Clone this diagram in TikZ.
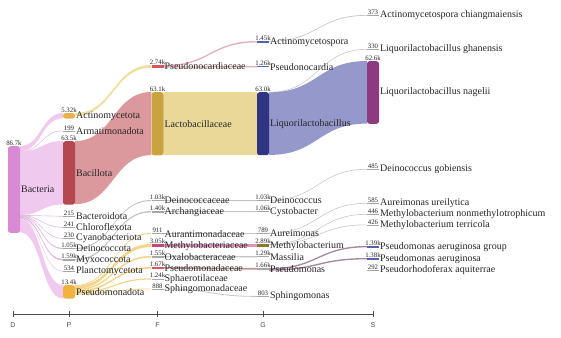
\documentclass[tikz,border=0pt]{standalone}
\usepackage{fontspec}
\setmainfont{Liberation Serif}
\setsansfont{Liberation Sans}
\usetikzlibrary{positioning,calc,backgrounds}

% Colori delle barre
\definecolor{cBact}{HTML}{D98AD5}
\definecolor{cActino}{HTML}{E6B04A}
\definecolor{cBacil}{HTML}{B5474F}
\definecolor{cPseudo}{HTML}{F2B33E}
\definecolor{cLacto}{HTML}{C9A43E}
\definecolor{cNavy}{HTML}{2F3582}
\definecolor{cPurple}{HTML}{8E3A80}
\definecolor{cRosso}{HTML}{D65660}
\definecolor{cMagenta}{HTML}{C8487A}
\definecolor{cOliva}{HTML}{8C7A34}
\definecolor{cBlu}{HTML}{5561AE}
\definecolor{cGrigio}{HTML}{A6A6A6}
% Colori dei flussi
\definecolor{fBact}{HTML}{F0C9EE}
\definecolor{fSottile}{HTML}{E2B8E0}
\definecolor{fBacil}{HTML}{DC999D}
\definecolor{fActino}{HTML}{EEE0A0}
\definecolor{fLacto}{HTML}{E9D897}
\definecolor{fLiquor}{HTML}{9598CB}
\definecolor{fPseudo}{HTML}{F3D488}
\definecolor{fRosa}{HTML}{E6B0B7}
\definecolor{fMagenta}{HTML}{DE94BB}
\definecolor{fBruno}{HTML}{BF9599}
\definecolor{fViola}{HTML}{A58A9E}
\definecolor{fGrigio}{HTML}{C4C4C4}

% Barra con valore sopra ed etichetta a destra
\newcommand{\nodo}[7]{%
  \node[#5, anchor=north, minimum height=#4] (#1) at (#2,#3) {};
  \node[valore, above=0pt of #1] (#1-v) {#6};
  \node[etichetta, right=0.5pt of #1] (#1-t) {#7};}

% Flusso a nastro: stile, punto alto di partenza, punto alto di arrivo, spessore
\newcommand{\flusso}[4]{%
  \fill[#1] let \p1=(#2), \p2=(#3), \n1={0.5*\x1+0.5*\x2} in
    (\p1) .. controls (\n1,\y1) and (\n1,\y2) .. (\p2)
    -- (\x2,\y2-#4pt) .. controls (\n1,\y2-#4pt) and (\n1,\y1-#4pt) .. (\x1,\y1-#4pt) -- cycle;}

\begin{document}
\begin{tikzpicture}[x=1pt, y=-1pt,
    barra/.style={rectangle, inner sep=0pt, minimum width=12pt, rounded corners=2.5pt},
    barretta/.style={rectangle, inner sep=0pt, minimum width=12pt, fill=cGrigio},
    valore/.style={inner sep=0.1pt, font=\fontsize{6.8}{7}\selectfont, text=black!85},
    etichetta/.style={inner sep=0.2pt, font=\fontsize{10}{10}\selectfont, text=black!85},
    asse/.style={draw=black!70, line width=0.9pt},
    lettera/.style={font=\sffamily\fontsize{7}{8}\selectfont, text=black!70}]

    \useasboundingbox (0,0) rectangle (561,337);

    % Livello D
    \nodo{bacteria}{14}{146}{86.7}{barra, fill=cBact}{86.7k}{Bacteria}

    % Livello P
    \nodo{actino}{69}{113}{5.32}{barra, fill=cActino}{5.32k}{Actinomycetota}
    \nodo{armati}{69}{130.5}{0.6}{barretta}{199}{Armatimonadota}
    \nodo{bacillota}{69}{141}{63.5}{barra, fill=cBacil}{63.5k}{Bacillota}
    \nodo{bactero}{69}{216}{0.6}{barretta}{215}{Bacteroidota}
    \nodo{chloro}{69}{227}{0.6}{barretta}{241}{Chloroflexota}
    \nodo{cyano}{69}{238}{0.6}{barretta}{230}{Cyanobacteriota}
    \nodo{deinota}{69}{248}{1.05}{barretta}{1.05k}{Deinococcota}
    \nodo{myxo}{69}{259}{1.59}{barretta}{1.59k}{Myxococcota}
    \nodo{plancto}{69}{271}{0.6}{barretta}{534}{Planctomycetota}
    \nodo{pseudota}{69}{285}{13.4}{barra, fill=cPseudo}{13.4k}{Pseudomonadota}

    % Livello F
    \nodo{pnocardiaceae}{157.5}{65}{2.74}{barretta, fill=cRosso}{2.74k}{Pseudonocardiaceae}
    \nodo{lactobac}{157.5}{92}{63.1}{barra, fill=cLacto}{63.1k}{Lactobacillaceae}
    \nodo{deinaceae}{157.5}{200}{1.03}{barretta}{1.03k}{Deinococcaceae}
    \nodo{archang}{157.5}{211}{1.40}{barretta}{1.40k}{Archangiaceae}
    \nodo{auranti}{157.5}{233}{0.911}{barretta}{911}{Aurantimonadaceae}
    \nodo{methylaceae}{157.5}{244}{3.05}{barretta, fill=cMagenta}{3.05k}{Methylobacteriaceae}
    \nodo{oxalo}{157.5}{256}{1.55}{barretta}{1.55k}{Oxalobacteraceae}
    \nodo{pseudaceae}{157.5}{267}{1.67}{barretta, fill=cRosso}{1.67k}{Pseudomonadaceae}
    \nodo{sphaero}{157.5}{278.3}{1.24}{barretta}{1.24k}{Sphaerotilaceae}
    \nodo{sphingaceae}{157.5}{288.5}{0.888}{barretta}{888}{Sphingomonadaceae}

    % Livello G
    \nodo{actinospora}{263}{41}{1.45}{barretta, fill=cBlu}{1.45k}{Actinomycetospora}
    \nodo{pnocardia}{263}{66}{1.26}{barretta, fill=cBlu}{1.26k}{Pseudonocardia}
    \nodo{liquor}{263}{92}{63.0}{barra, fill=cNavy}{63.0k}{Liquorilactobacillus}
    \nodo{deinococcus}{263}{200}{1.03}{barretta}{1.03k}{Deinococcus}
    \nodo{cysto}{263}{211}{1.06}{barretta}{1.06k}{Cystobacter}
    \nodo{aureimonas}{263}{233}{0.789}{barretta}{789}{Aureimonas}
    \nodo{methylium}{263}{244}{2.89}{barretta, fill=cOliva}{2.89k}{Methylobacterium}
    \nodo{massilia}{263}{256}{1.29}{barretta}{1.29k}{Massilia}
    \nodo{pseudomonas}{263}{268}{1.66}{barretta}{1.66k}{Pseudomonas}
    \nodo{sphingomonas}{263}{296}{0.803}{barretta}{803}{Sphingomonas}

    % Livello S
    \nodo{chiang}{373}{15}{0.6}{barretta}{373}{Actinomycetospora chiangmaiensis}
    \nodo{ghanensis}{373}{49}{0.6}{barretta}{330}{Liquorilactobacillus ghanensis}
    \nodo{nagelii}{373}{61}{62.6}{barra, fill=cPurple}{62.6k}{Liquorilactobacillus nagelii}
    \nodo{gobiensis}{373}{169}{0.6}{barretta}{485}{Deinococcus gobiensis}
    \nodo{ureilytica}{373}{203}{0.6}{barretta}{585}{Aureimonas ureilytica}
    \nodo{nonmethyl}{373}{214}{0.6}{barretta}{446}{Methylobacterium nonmethylotrophicum}
    \nodo{terricola}{373}{224.5}{0.6}{barretta}{426}{Methylobacterium terricola}
    \nodo{paergroup}{373}{246}{1.39}{barretta, fill=cBlu}{1.39k}{Pseudomonas aeruginosa group}
    \nodo{paer}{373}{258}{1.38}{barretta, fill=cBlu}{1.38k}{Pseudomonas aeruginosa}
    \nodo{pseudorhodo}{373}{270}{0.6}{barretta}{292}{Pseudorhodoferax aquiterrae}

    % Flussi (sotto barre e testi)
    \begin{scope}[on background layer]
        % D -> P
        \flusso{fBact}{bacteria.north east}{actino.north west}{5.32}
        \flusso{fSottile}{$(bacteria.north east)+(0,5.32)$}{armati.north west}{0.6}
        \flusso{fBact}{$(bacteria.north east)+(0,5.52)$}{bacillota.north west}{63.5}
        \flusso{fSottile}{$(bacteria.north east)+(0,69.0)$}{bactero.north west}{0.6}
        \flusso{fSottile}{$(bacteria.north east)+(0,69.2)$}{chloro.north west}{0.6}
        \flusso{fSottile}{$(bacteria.north east)+(0,69.45)$}{cyano.north west}{0.6}
        \flusso{fSottile}{$(bacteria.north east)+(0,69.7)$}{deinota.north west}{1.05}
        \flusso{fSottile}{$(bacteria.north east)+(0,70.75)$}{myxo.north west}{1.59}
        \flusso{fSottile}{$(bacteria.north east)+(0,72.3)$}{plancto.north west}{0.6}
        \flusso{fBact}{$(bacteria.north east)+(0,72.9)$}{pseudota.north west}{13.4}

        % P -> F
        \flusso{fActino}{actino.north east}{pnocardiaceae.north west}{2.74}
        \flusso{fBacil}{bacillota.north east}{lactobac.north west}{63.1}
        \flusso{fGrigio}{deinota.north east}{deinaceae.north west}{1.03}
        \flusso{fGrigio}{myxo.north east}{archang.north west}{1.40}
        \flusso{fPseudo}{pseudota.north east}{auranti.north west}{0.911}
        \flusso{fPseudo}{$(pseudota.north east)+(0,0.911)$}{methylaceae.north west}{3.05}
        \flusso{fPseudo}{$(pseudota.north east)+(0,3.96)$}{oxalo.north west}{1.55}
        \flusso{fPseudo}{$(pseudota.north east)+(0,5.51)$}{pseudaceae.north west}{1.67}
        \flusso{fPseudo}{$(pseudota.north east)+(0,7.18)$}{sphaero.north west}{1.24}
        \flusso{fPseudo}{$(pseudota.north east)+(0,8.42)$}{sphingaceae.north west}{0.888}

        % F -> G
        \flusso{fRosa}{pnocardiaceae.north east}{actinospora.north west}{1.45}
        \flusso{fRosa}{$(pnocardiaceae.north east)+(0,1.45)$}{pnocardia.north west}{1.26}
        \flusso{fLacto}{lactobac.north east}{liquor.north west}{63.0}
        \flusso{fGrigio}{deinaceae.north east}{deinococcus.north west}{1.03}
        \flusso{fGrigio}{archang.north east}{cysto.north west}{1.06}
        \flusso{fGrigio}{auranti.north east}{aureimonas.north west}{0.789}
        \flusso{fMagenta}{methylaceae.north east}{methylium.north west}{2.89}
        \flusso{fGrigio}{oxalo.north east}{massilia.north west}{1.29}
        \flusso{fBruno}{pseudaceae.north east}{pseudomonas.north west}{1.66}
        \flusso{fGrigio}{sphingaceae.north east}{sphingomonas.north west}{0.803}

        % G -> S
        \flusso{fGrigio}{actinospora.north east}{chiang.north west}{0.7}
        \flusso{fGrigio}{liquor.north east}{ghanensis.north west}{0.6}
        \flusso{fLiquor}{$(liquor.north east)+(0,0.33)$}{nagelii.north west}{62.6}
        \flusso{fGrigio}{deinococcus.north east}{gobiensis.north west}{0.6}
        \flusso{fGrigio}{aureimonas.north east}{ureilytica.north west}{0.6}
        \flusso{fGrigio}{methylium.north east}{nonmethyl.north west}{0.6}
        \flusso{fGrigio}{$(methylium.north east)+(0,0.446)$}{terricola.north west}{0.6}
        \flusso{fViola}{pseudomonas.north east}{paergroup.north west}{1.39}
        \flusso{fViola}{$(pseudomonas.north east)+(0,1.39)$}{paer.north west}{1.38}
    \end{scope}

    % Asse dei livelli
    \draw[asse] (13,314) -- (373,314);
    \foreach \x/\l in {13/D, 69/P, 157.5/F, 263/G, 373/S} {
        \draw[asse] (\x,311) -- (\x,317);
        \node[lettera] (asse-\l) at (\x,325) {\l};
    }

\end{tikzpicture}
\end{document}
